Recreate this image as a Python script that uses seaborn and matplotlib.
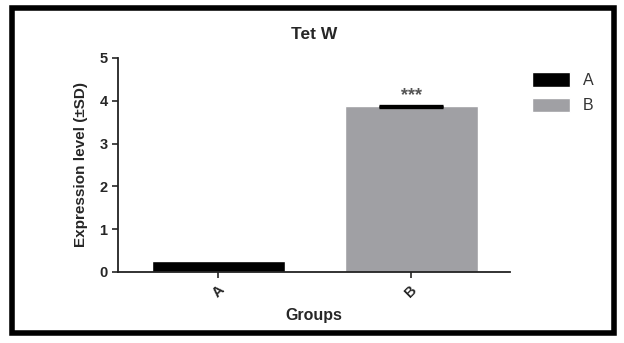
import matplotlib
matplotlib.use("Agg")
import matplotlib.pyplot as plt
import seaborn as sns
import pandas as pd
from matplotlib.patches import Rectangle

groups = ["A", "B"]
means = [0.25, 3.87]
sds = [0.0, 0.01]
colors = ["#000000", "#a0a0a4"]

sns.set_style("white")
plt.rcParams['font.family'] = ['Liberation Sans', 'DejaVu Sans']

df = pd.DataFrame({"Group": groups, "Expression": means})

fig = plt.figure(figsize=(6.24, 3.43), dpi=100)
ax = fig.add_axes([0.189, 0.207, 0.628, 0.624])

sns.barplot(data=df, x="Group", y="Expression", hue="Group", palette=colors,
            width=0.69, dodge=False, ax=ax, legend=True, errorbar=None)
ax.errorbar([1], [means[1]], yerr=[sds[1]], fmt="none", ecolor="black",
            elinewidth=1.5, capsize=23, capthick=2.4)
ax.text(1, means[1] + 0.25, "***", ha="center", va="center", fontsize=13,
        color="#555555", fontweight="bold")

ax.set_xlim(-0.52, 1.51)
ax.set_ylim(0, 5)
ax.set_yticks([0, 1, 2, 3, 4, 5])
ax.tick_params(axis="y", direction="out", length=4, width=1.2, left=True, labelsize=10.5)
ax.tick_params(axis="x", direction="out", length=4, width=1.2, bottom=True, labelsize=10.5)
for lab in ax.get_xticklabels():
    lab.set_rotation(45)
    lab.set_fontweight("bold")
for lab in ax.get_yticklabels():
    lab.set_fontweight("bold")
for s in ["top", "right"]:
    ax.spines[s].set_visible(False)
for s in ["left", "bottom"]:
    ax.spines[s].set_linewidth(1.3)
    ax.spines[s].set_color("#222222")

ax.set_title("Tet W", fontsize=12.5, fontweight="heavy", pad=14)
ax.set_xlabel("Groups", fontsize=11.5, fontweight="bold", labelpad=6)
ax.set_ylabel("Expression level (±SD)", fontsize=11, fontweight="bold", labelpad=8)

leg = ax.legend(loc="upper left", bbox_to_anchor=(1.02, 1.0), frameon=False,
                fontsize=11.5, handlelength=2.4, handleheight=1.0, labelspacing=0.6)
for t in leg.get_texts():
    t.set_color("#333333")

fig.patches.append(Rectangle((12/624, 1-333/343), 602/624, 325/343, transform=fig.transFigure,
                             fill=False, edgecolor="black", linewidth=4))

fig.savefig("out.png", dpi=100)
